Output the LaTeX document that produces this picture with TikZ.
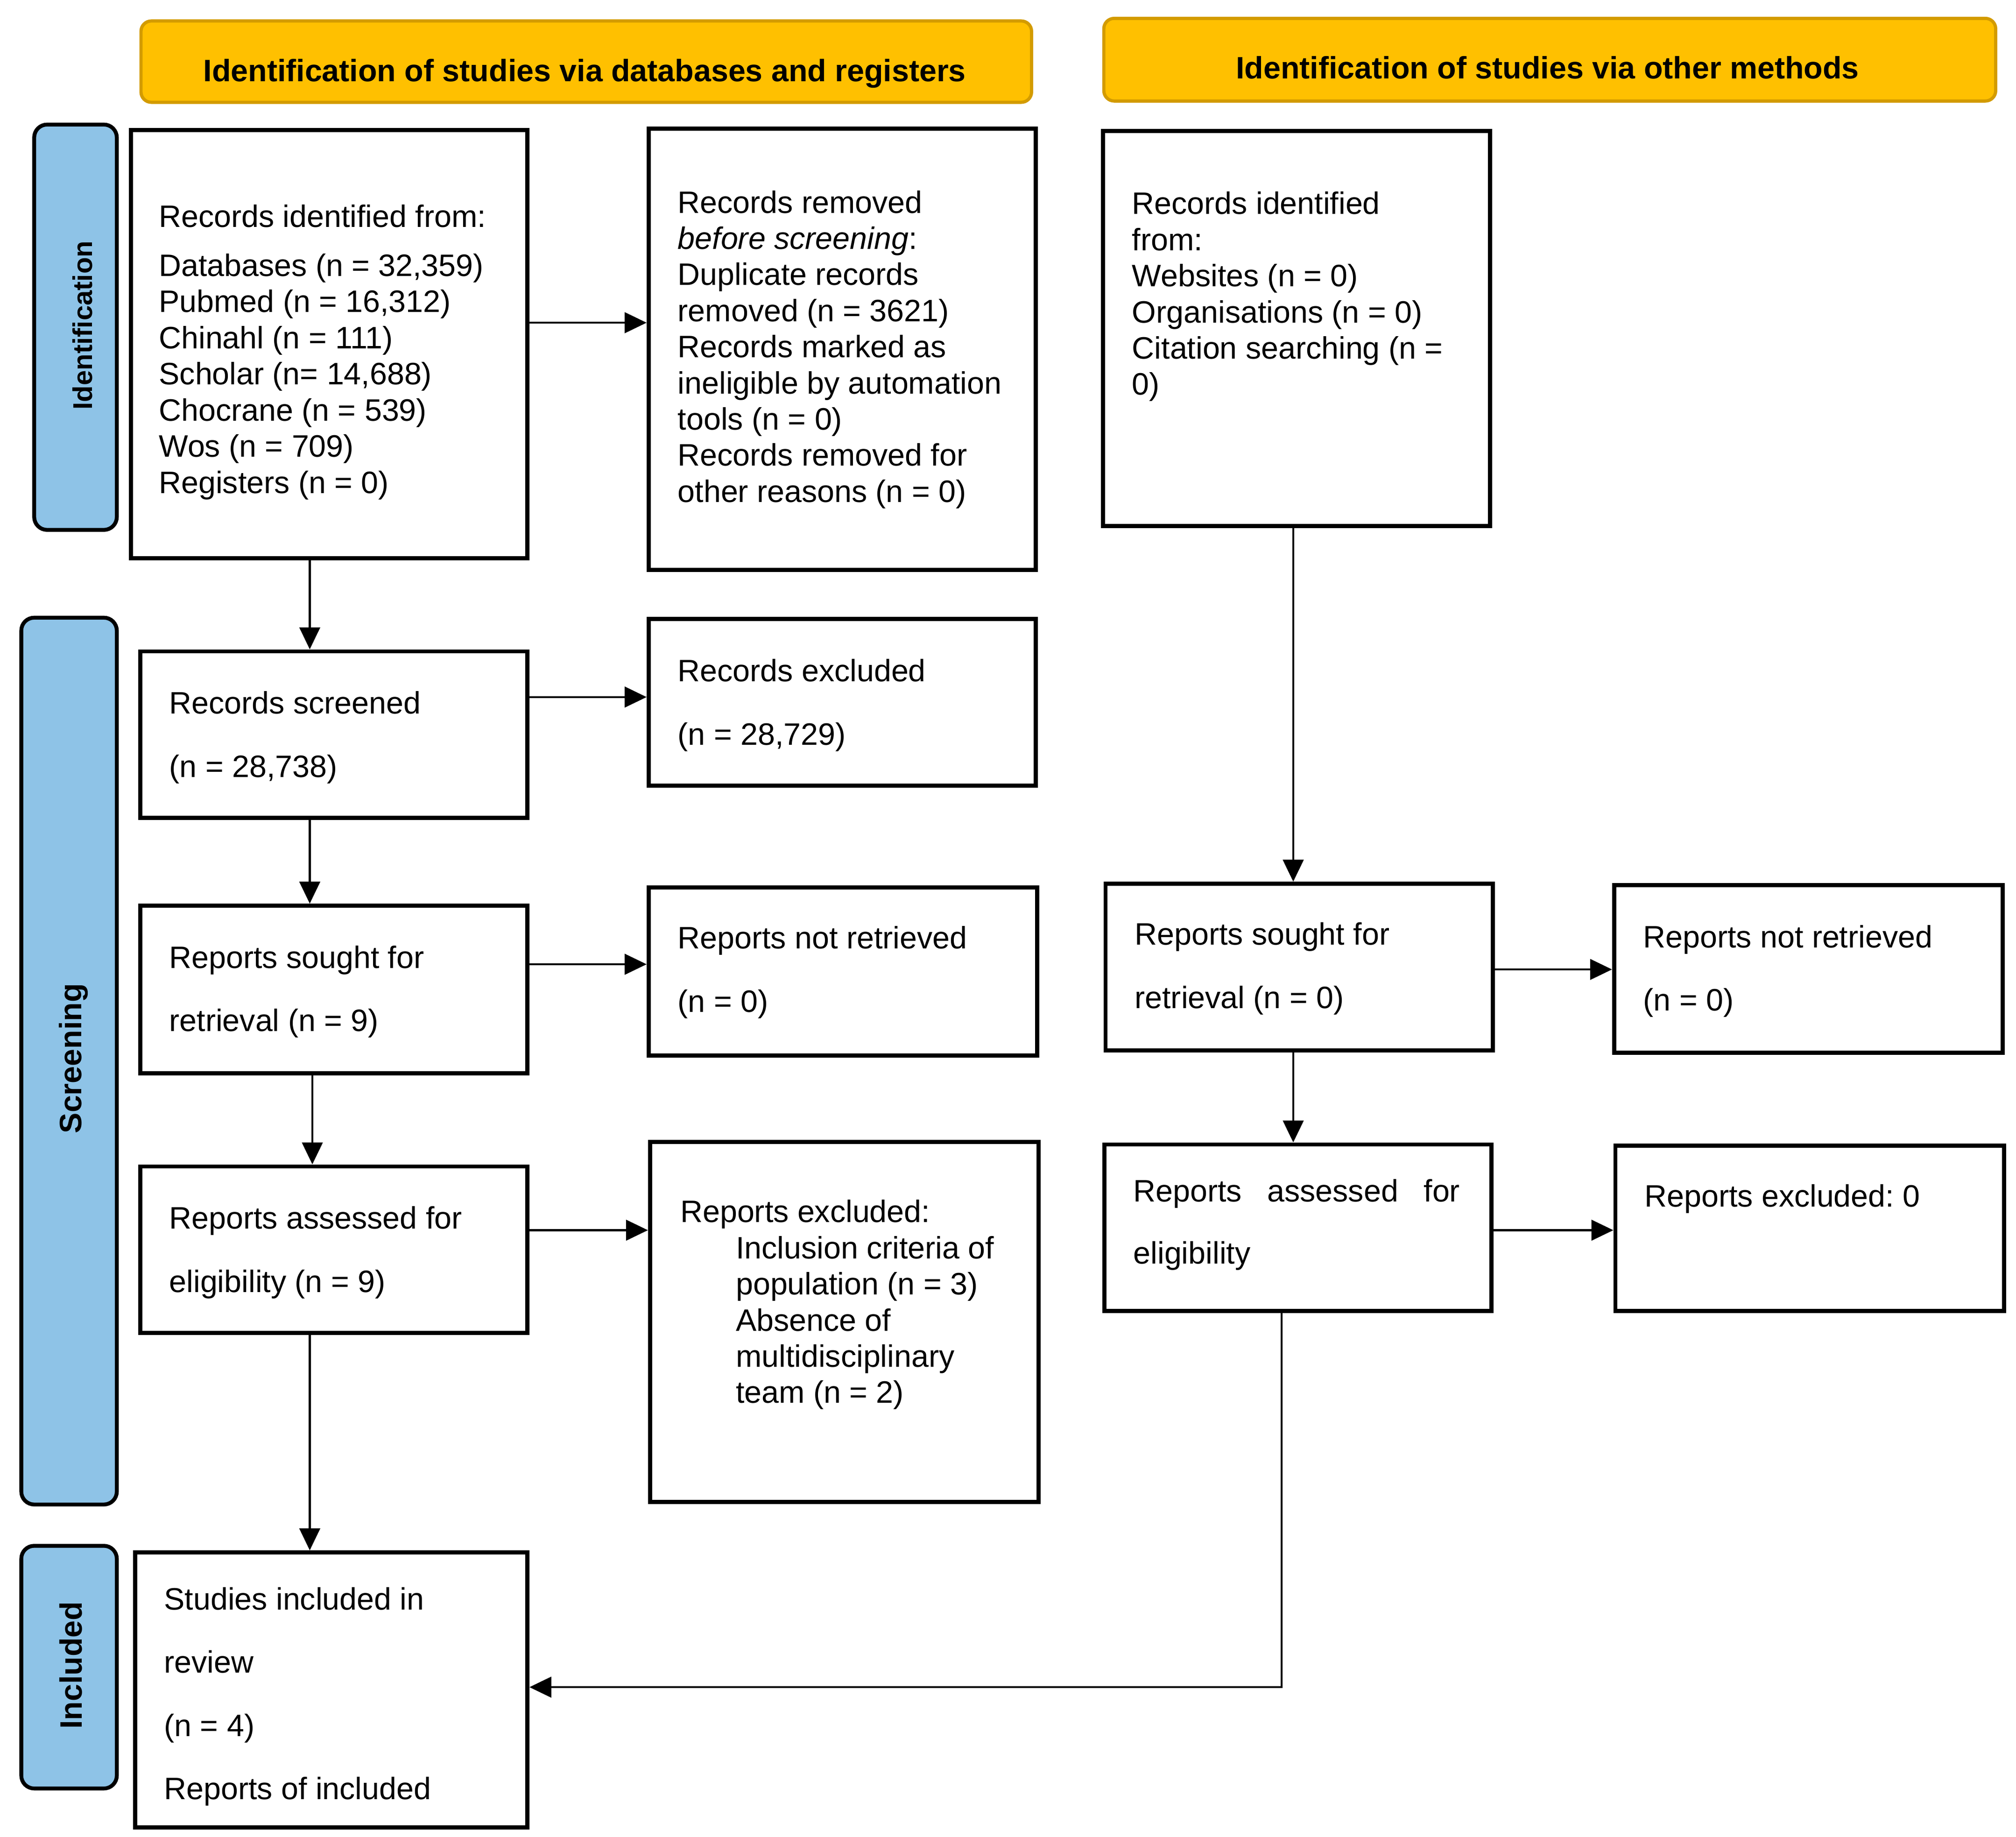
\documentclass[tikz,border=0pt]{standalone}
\usepackage{fontspec}
\setmainfont{Liberation Sans}
\usetikzlibrary{arrows.meta}
\definecolor{hdrfill}{HTML}{FFC000}
\definecolor{hdrdraw}{HTML}{D39B00}
\definecolor{sidefill}{HTML}{8EC3E7}
\begin{document}
\frenchspacing
\begin{tikzpicture}[x=1pt,y=-1pt,
  box/.style={draw, line width=3.2pt, anchor=north west, inner sep=0pt},
  hdr/.style={draw=hdrdraw, fill=hdrfill, line width=2.5pt, rounded corners=8pt, anchor=north west, inner sep=0pt},
  side/.style={draw=black, fill=sidefill, line width=3pt, rounded corners=10pt, anchor=north west, inner sep=0pt},
  hdrtxt/.style={anchor=base, inner sep=0pt, font=\bfseries\fontsize{24}{28}\selectfont},
  sidetxt/.style={rotate=90, inner sep=0pt, font=\bfseries\fontsize{24}{28}\selectfont},
  txt/.style={anchor=base west, align=left, inner sep=0pt, font=\fontsize{24}{28}\selectfont},
  dtxt/.style={anchor=base west, align=left, inner sep=0pt, font=\fontsize{24}{49}\selectfont},
  conn/.style={line width=1.5pt, -{Triangle[length=17pt,width=16pt]}}]
\useasboundingbox (0,0) rectangle (1562,1423);
\fill[white] (0,0) rectangle (1562,1423);

% headers
\node[hdr, minimum width=690pt, minimum height=63pt] (H1) at (108,15) {};
\node[hdrtxt] (H1t) at (453,63) {Identification of studies via databases and registers};
\node[hdr, minimum width=691pt, minimum height=64pt] (H2) at (854,13) {};
\node[hdrtxt] (H2t) at (1199,61) {Identification of studies via other methods};

% side labels
\node[side, minimum width=64pt, minimum height=314pt] (S1) at (25,95) {};
\node[sidetxt, font=\bfseries\fontsize{21}{24}\selectfont] (S1t) at (64,252) {Identification};
\node[side, minimum width=74pt, minimum height=687pt] (S2) at (15,477) {};
\node[sidetxt] (S2t) at (57,820) {Screening};
\node[side, minimum width=74pt, minimum height=188pt] (S3) at (15,1196) {};
\node[sidetxt] (S3t) at (55,1290) {Included};

% boxes
\node[box, minimum width=307pt, minimum height=332pt] (A) at (100,99) {};
\node[box, minimum width=300pt, minimum height=342pt] (B) at (501,98) {};
\node[box, minimum width=300pt, minimum height=306pt] (C) at (853,100) {};
\node[box, minimum width=300pt, minimum height=129pt] (D) at (107,503) {};
\node[box, minimum width=300pt, minimum height=129pt] (E) at (501,478) {};
\node[box, minimum width=300pt, minimum height=130pt] (F) at (107,700) {};
\node[box, minimum width=301pt, minimum height=130pt] (G) at (501,686) {};
\node[box, minimum width=300pt, minimum height=129pt] (H) at (107,902) {};
\node[box, minimum width=301pt, minimum height=279pt] (I) at (502,883) {};
\node[box, minimum width=300pt, minimum height=129pt] (J) at (855,683) {};
\node[box, minimum width=301pt, minimum height=130pt] (K) at (1249,684) {};
\node[box, minimum width=300pt, minimum height=129pt] (L) at (854,885) {};
\node[box, minimum width=301pt, minimum height=128pt] (M) at (1250,886) {};
\node[box, minimum width=304pt, minimum height=213pt] (N) at (103,1201) {};

% texts (anchor = baseline of the last line)
\node[txt] (At) at (123,382) {Records identified from:\\[10pt]Databases (n = 32,359)\\Pubmed (n = 16,312)\\Chinahl (n = 111)\\Scholar (n= 14,688)\\Chocrane (n = 539)\\Wos (n = 709)\\Registers (n = 0)};
\node[txt] (Bt) at (525,389) {Records removed\\\textit{before screening}:\\Duplicate records\\removed (n = 3621)\\Records marked as\\ineligible by automation\\tools (n = 0)\\Records removed for\\other reasons (n = 0)};
\node[txt] (Ct) at (877,306) {Records identified\\from:\\Websites (n = 0)\\Organisations (n = 0)\\Citation searching (n =\\0)};
\node[dtxt] (Dt) at (131,602) {Records screened\\(n = 28,738)};
\node[dtxt] (Et) at (525,577) {Records excluded\\(n = 28,729)};
\node[dtxt] (Ft) at (131,799) {Reports sought for\\retrieval (n = 9)};
\node[dtxt] (Gt) at (525,784) {Reports not retrieved\\(n = 0)};
\node[dtxt] (Ht) at (131,1001) {Reports assessed for\\eligibility (n = 9)};
\node[txt] (It) at (527,1087) {Reports excluded:\\\hspace*{43pt}Inclusion criteria of\\\hspace*{43pt}population (n = 3)\\\hspace*{43pt}Absence of\\\hspace*{43pt}multidisciplinary\\\hspace*{43pt}team (n = 2)};
\node[dtxt] (Jt) at (879,781) {Reports sought for\\retrieval (n = 0)};
\node[dtxt] (Kt) at (1273,783) {Reports not retrieved\\(n = 0)};
\node[dtxt] (Lt) at (878,979) {\makebox[253pt][s]{Reports\hfill assessed\hfill for}\\[-1pt]eligibility};
\node[txt] (Mt) at (1274,935) {Reports excluded: 0};
\node[dtxt] (Nt) at (127,1394) {Studies included in\\review\\(n = 4)\\Reports of included};

% connectors
\draw[conn] (A.east |- 0,250) -- (B.west |- 0,250);
\draw[conn] (A.south -| 240,0) -- (D.north -| 240,0);
\draw[conn] (D.east |- 0,540) -- (E.west |- 0,540);
\draw[conn] (D.south -| 240,0) -- (F.north -| 240,0);
\draw[conn] (F.east |- 0,747) -- (G.west |- 0,747);
\draw[conn] (F.south -| 242,0) -- (H.north -| 242,0);
\draw[conn] (H.east |- 0,953) -- (I.west |- 0,953);
\draw[conn] (H.south -| 240,0) -- (N.north -| 240,0);
\draw[conn] (C.south -| 1002,0) -- (J.north -| 1002,0);
\draw[conn] (J.east |- 0,751) -- (K.west |- 0,751);
\draw[conn] (J.south -| 1002,0) -- (L.north -| 1002,0);
\draw[conn] (L.east |- 0,953) -- (M.west |- 0,953);
\draw[conn] (L.south -| 993,0) |- (N.east |- 0,1307);
\end{tikzpicture}
\end{document}
